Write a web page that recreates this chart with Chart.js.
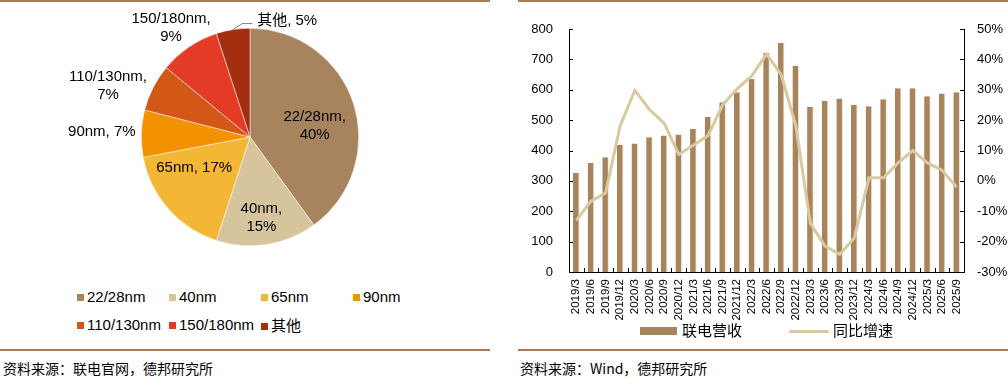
<!DOCTYPE html>
<html>
<head>
<meta charset="utf-8">
<script src="https://cdn.jsdelivr.net/npm/chart.js@4/dist/chart.umd.min.js"></script>
<style>
body { margin: 0; width: 1008px; height: 377px; background: #fff; position: relative; overflow: hidden;
       font-family: "Liberation Sans", Arial, "Noto Sans CJK SC", sans-serif; color: #000; }
.rule { position: absolute; height: 2px; background: #A67C5B; }
.box { position: absolute; }
.src { position: absolute; top: 358px; font-size: 14px; font-family: "Noto Sans CJK SC", sans-serif; }
.leg { position: absolute; font-size: 15px; line-height: 18px; white-space: nowrap; }
.leg i { display: inline-block; width: 7px; height: 7px; margin-right: 3px; vertical-align: 1px; }
.cjk { font-family: "Noto Sans CJK SC", sans-serif; }
</style>
</head>
<body>
<div class="rule" style="left:0;top:0;width:490px"></div>
<div class="rule" style="left:518px;top:0;width:490px"></div>
<div class="rule" style="left:0;top:349px;width:490px"></div>
<div class="rule" style="left:518px;top:349px;width:490px"></div>

<div class="box" style="left:0;top:0;width:490px;height:280px"><canvas id="pieChart"></canvas></div>
<div id="pieLegend"></div>

<div class="box" style="left:518px;top:0;width:490px;height:322px"><canvas id="comboChart"></canvas></div>
<div id="comboLegend"></div>

<div class="src" style="left:3px">资料来源：联电官网，德邦研究所</div>
<div class="src" style="left:520px">资料来源：Wind，德邦研究所</div>

<script>
/* Pie data: UMC revenue share by node */
const nodeLabels = ["22/28nm", "40nm", "65nm", "90nm", "110/130nm", "150/180nm", "其他"];
const nodeShares = [40, 15, 17, 7, 7, 9, 5];
const nodeColors = ["#A8845E", "#D5C49C", "#F4B735", "#F39200", "#D35817", "#E43B27", "#A32E10"];

/* Combo data: quarterly revenue and yoy growth */
const quarters = [
    "2019/3", "2019/6", "2019/9", "2019/12",
    "2020/3", "2020/6", "2020/9", "2020/12",
    "2021/3", "2021/6", "2021/9", "2021/12",
    "2022/3", "2022/6", "2022/9", "2022/12",
    "2023/3", "2023/6", "2023/9", "2023/12",
    "2024/3", "2024/6", "2024/9", "2024/12",
    "2025/3", "2025/6", "2025/9"
];
const revenue = [
    326, 360, 378, 419,
    423, 444, 449, 453,
    471, 510, 559, 592,
    635, 721, 755, 679,
    543, 563, 571, 550,
    546, 569, 605, 605,
    579, 588, 592
];
const yoyGrowth = [
    -13, -6.7, -4, 18.2,
    29.8, 23.5, 19, 8.7,
    11.7, 14.9, 25, 30.3,
    34.6, 41.8, 35, 18.2,
    -14, -21.5, -24.2, -18.8,
    1, 1, 5.9, 10,
    5.9, 3.5, -2.1
];
const revenueTicks = [0, 800, 100];
const growthTicks = [-30, 50, 10];

const barColor = "#A8845C";
const lineColor = "#D9C9A1";

/* Label placement for pie slices: radius factor, angle shift (deg), split into two lines */
const pieLabelLayout = [
    { k: 0.603, shift: 8.6, split: true },
    { k: 0.753, shift: 1, split: true },
    { k: 0.585, shift: 12.7, split: false },
    { k: 1.363, shift: 0, split: false },
    { k: 1.388, shift: -7.2, split: true },
    { k: 1.24, shift: -1.6, split: true },
    { k: 1.124, shift: 26.7, split: false, leader: true }
];

const pieLabels = {
    id: "pieLabels",
    afterDatasetsDraw(chart) {
        const ctx = chart.ctx;
        const meta = chart.getDatasetMeta(0);
        ctx.save();
        ctx.font = "15px 'Liberation Sans', Arial, 'Noto Sans CJK SC'";
        ctx.fillStyle = "#000";
        ctx.textAlign = "center";
        ctx.textBaseline = "middle";
        meta.data.forEach((arc, i) => {
            const cfg = pieLabelLayout[i];
            const mid = (arc.startAngle + arc.endAngle) / 2;
            const ang = mid + cfg.shift * Math.PI / 180;
            const r = arc.outerRadius * cfg.k;
            const x = arc.x + Math.cos(ang) * r;
            const y = arc.y + Math.sin(ang) * r;
            const lines = cfg.split
                ? [nodeLabels[i] + ",", nodeShares[i] + "%"]
                : [nodeLabels[i] + ", " + nodeShares[i] + "%"];
            lines.forEach((t, j) => {
                ctx.fillText(t, x, y + (j - (lines.length - 1) / 2) * 18);
            });
            if (cfg.leader) {
                const w = ctx.measureText(lines[0]).width;
                const left = x - w / 2 - 5;
                const ex = arc.x + Math.cos(mid) * arc.outerRadius;
                const ey = arc.y + Math.sin(mid) * arc.outerRadius;
                ctx.strokeStyle = "#7F7F7F";
                ctx.lineWidth = 1;
                ctx.beginPath();
                ctx.moveTo(ex, ey);
                ctx.lineTo(left - 10, y + 3);
                ctx.lineTo(left, y + 3);
                ctx.stroke();
            }
        });
        ctx.restore();
    }
};

new Chart(document.querySelector("#pieChart"), {
    type: "pie",
    data: {
        labels: nodeLabels,
        datasets: [{
            data: nodeShares,
            backgroundColor: nodeColors,
            borderColor: "#ffffff",
            borderWidth: 0.5
        }]
    },
    options: {
        responsive: true,
        maintainAspectRatio: false,
        animation: false,
        layout: { padding: { top: 28, bottom: 34, left: 141, right: 131 } },
        plugins: { legend: { display: false }, tooltip: { enabled: false } }
    },
    plugins: [pieLabels]
});

/* Pie legend */
const pieLegendEl = document.querySelector("#pieLegend");
nodeLabels.forEach((name, i) => {
    const item = document.createElement("div");
    item.className = "leg";
    const row = i < 4 ? 0 : 1;
    const col = i < 4 ? i : i - 4;
    item.style.left = (77 + col * 92) + "px";
    item.style.top = (288 + row * 28) + "px";
    item.innerHTML = `<i style="background:${nodeColors[i]}"></i><span class="${/[a-z0-9]/i.test(name) ? "" : "cjk"}">${name}</span>`;
    pieLegendEl.appendChild(item);
});

/* Inward tick marks on all three axes */
const innerTicks = {
    id: "innerTicks",
    afterDraw(chart) {
        const { ctx, scales: { x, y, y1 } } = chart;
        ctx.save();
        ctx.strokeStyle = "#000";
        ctx.lineWidth = 1;
        ctx.beginPath();
        y.ticks.forEach(t => {
            const py = Math.round(y.getPixelForValue(t.value)) + 0.5;
            ctx.moveTo(y.right, py);
            ctx.lineTo(y.right + 4, py);
        });
        y1.ticks.forEach(t => {
            const py = Math.round(y1.getPixelForValue(t.value)) + 0.5;
            ctx.moveTo(y1.left, py);
            ctx.lineTo(y1.left - 4, py);
        });
        const step = (x.right - x.left) / quarters.length;
        for (let i = 1; i < quarters.length; i++) {
            const px = Math.round(x.left + step * i) + 0.5;
            ctx.moveTo(px, x.top);
            ctx.lineTo(px, x.top - 4);
        }
        ctx.stroke();
        ctx.restore();
    }
};

const tickFont = { family: "'Liberation Sans', Arial", size: 13 };

new Chart(document.querySelector("#comboChart"), {
    data: {
        labels: quarters,
        datasets: [
            {
                type: "line",
                label: "同比增速",
                data: yoyGrowth,
                yAxisID: "y1",
                borderColor: lineColor,
                borderWidth: 3,
                pointRadius: 0,
                tension: 0,
                order: 1
            },
            {
                type: "bar",
                label: "联电营收",
                data: revenue,
                yAxisID: "y",
                backgroundColor: barColor,
                borderColor: "#EDE3D3",
                borderWidth: { top: 0, left: 0, bottom: 0, right: 1 },
                barPercentage: 0.45,
                categoryPercentage: 1,
                order: 2
            }
        ]
    },
    options: {
        responsive: true,
        maintainAspectRatio: false,
        animation: false,
        layout: { padding: { top: 29, left: 0, right: 0, bottom: 0 } },
        plugins: { legend: { display: false }, tooltip: { enabled: false } },
        scales: {
            x: {
                grid: { display: false, drawTicks: false },
                border: { display: true, color: "#000", width: 1 },
                ticks: {
                    color: "#000",
                    font: { family: "'Liberation Sans', Arial", size: 11.5 },
                    minRotation: 90,
                    maxRotation: 90,
                    autoSkip: false,
                    padding: 7
                },
                afterFit(scale) { scale.height = 50; }
            },
            y: {
                position: "left",
                min: revenueTicks[0],
                max: revenueTicks[1],
                grid: { display: false, drawTicks: false },
                border: { display: true, color: "#000", width: 1 },
                ticks: { stepSize: revenueTicks[2], color: "#000", font: tickFont, padding: 16 },
                afterFit(scale) { scale.width = 51; }
            },
            y1: {
                position: "right",
                min: growthTicks[0],
                max: growthTicks[1],
                grid: { display: false, drawTicks: false },
                border: { display: true, color: "#000", width: 1 },
                ticks: {
                    stepSize: growthTicks[2],
                    color: "#000",
                    font: tickFont,
                    padding: 13,
                    callback: v => v + "%"
                },
                afterFit(scale) { scale.width = 44; }
            }
        }
    },
    plugins: [innerTicks]
});

/* Combo legend */
document.querySelector("#comboLegend").innerHTML = `
    <div class="box" style="left:640px;top:327px;width:37px;height:8px;background:${barColor}"></div>
    <div class="leg cjk" style="left:682px;top:321px">联电营收</div>
    <div class="box" style="left:789px;top:330px;width:40px;height:3px;background:${lineColor};border-radius:2px"></div>
    <div class="leg cjk" style="left:833px;top:321px">同比增速</div>
`;
</script>
</body>
</html>
